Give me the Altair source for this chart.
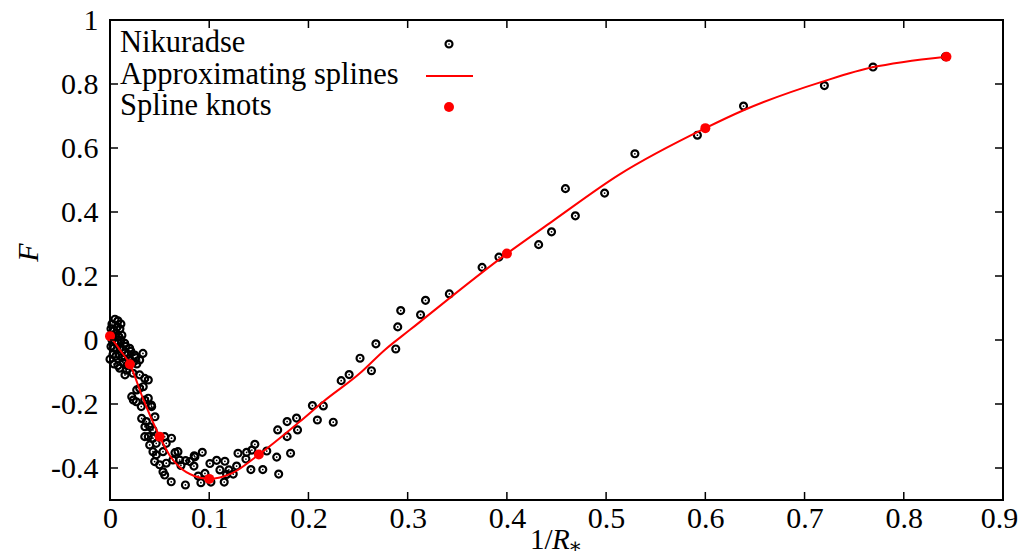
import altair as alt
import pandas as pd

# ---------------- data ----------------
nik_x = [
    # sparse upper branch
    0.529, 0.592, 0.6385, 0.720, 0.769, 0.842,
    0.459, 0.4985, 0.469, 0.445, 0.432, 0.392, 0.375, 0.342, 0.318, 0.293, 0.313, 0.290, 0.268, 0.288,
    0.252, 0.2635, 0.241, 0.233,
    0.204, 0.215, 0.209, 0.225, 0.169, 0.1785, 0.188, 0.189, 0.1785, 0.146, 0.143, 0.129, 0.137,
    0.158, 0.168, 0.182, 0.142, 0.154, 0.170,
    # minimum region
    0.0655, 0.0685, 0.0715, 0.0762, 0.0849, 0.0846, 0.093, 0.1007, 0.1075, 0.1158, 0.1108, 0.1198,
    0.1151, 0.1242, 0.1276, 0.1377, 0.0889, 0.0916, 0.0957, 0.1017, 0.1175, 0.0806, 0.0856, 0.076,
    0.0617, 0.0634, 0.0702, 0.0534, 0.0551, 0.045, 0.050, 0.0567,
    # descending branch
    0.0098, 0.0164, 0.0232, 0.0299, 0.035, 0.0386, 0.0151, 0.0335, 0.0269, 0.0219, 0.0235, 0.0386,
    0.042, 0.0299, 0.035, 0.0315, 0.0453, 0.0319, 0.0366, 0.0352, 0.040, 0.0433, 0.035, 0.0386,
    0.0433, 0.0551, 0.062, 0.040, 0.0466, 0.0567, 0.0433, 0.0466, 0.0534, 0.0265, 0.0416, 0.0249,
    0.0332, 0.0198, 0.0148, 0.0299,
    # dense cluster near the origin
    0.002, 0.005, 0.008, 0.011, 0.001, 0.004, 0.007, 0.010, 0.003, 0.006, 0.009, 0.012, 0.002,
    0.005, 0.008, 0.011, 0.001, 0.004, 0.007, 0.010, 0.013, 0.016, 0.003, 0.006, 0.009, 0.012,
    0.015, 0.018, 0.021, 0.019, 0.023, 0.027, 0.026, 0.000, 0.004, 0.008, 0.013, 0.017,
]
nik_f = [
    0.582, 0.640, 0.731, 0.795, 0.853, 0.885,
    0.473, 0.459, 0.388, 0.338, 0.298, 0.259, 0.227, 0.144, 0.124, 0.092, 0.079, 0.041, -0.012, -0.028,
    -0.057, -0.096, -0.108, -0.127,
    -0.205, -0.206, -0.250, -0.257, -0.281, -0.255, -0.244, -0.281, -0.302, -0.326, -0.344, -0.354, -0.372,
    -0.347, -0.366, -0.354, -0.405, -0.405, -0.419,
    -0.352, -0.349, -0.392, -0.377, -0.362, -0.394, -0.351, -0.386, -0.376, -0.379, -0.406, -0.406,
    -0.444, -0.419, -0.394, -0.351, -0.425, -0.446, -0.417, -0.444, -0.420, -0.380, -0.365, -0.453,
    -0.443, -0.375, -0.375, -0.412, -0.422, -0.380, -0.390, -0.385,
    -0.088, -0.094, -0.104, -0.109, -0.120, -0.125, -0.109, -0.146, -0.156, -0.177, -0.1875, -0.182,
    -0.208, -0.151, -0.1875, -0.208, -0.240, -0.245, -0.255, -0.271, -0.271, -0.281, -0.302, -0.302,
    -0.307, -0.302, -0.307, -0.328, -0.323, -0.323, -0.349, -0.359, -0.349, -0.193, -0.203, -0.047,
    -0.042, -0.026, -0.010, -0.0625,
    0.050, 0.065, 0.060, 0.050, 0.035, 0.030, 0.040, 0.035, 0.015, 0.020, 0.010, 0.015, 0.000,
    -0.005, -0.010, 0.000, -0.020, -0.025, -0.030, -0.025, -0.030, -0.020, -0.045, -0.050, -0.045, -0.055,
    -0.040, -0.045, -0.035, -0.060, -0.070, -0.075, -0.055, -0.060, -0.075, -0.080, -0.070, -0.080,
]

spline_x = [0.0, 0.01, 0.02, 0.0335, 0.05, 0.06, 0.07, 0.085, 0.1, 0.1226, 0.15, 0.1913, 0.216,
            0.2518, 0.2769, 0.302, 0.4, 0.4454, 0.5128, 0.6, 0.6385, 0.7197, 0.7694, 0.80, 0.843]
spline_f = [0.012, -0.031, -0.076, -0.185, -0.302, -0.36, -0.397, -0.425, -0.434, -0.417, -0.358,
            -0.255, -0.19, -0.104, -0.031, 0.031, 0.27, 0.37, 0.516, 0.662, 0.718, 0.809, 0.853,
            0.869, 0.885]

knot_x = [0.0, 0.02, 0.05, 0.1, 0.15, 0.4, 0.6, 0.843]
knot_f = [0.012, -0.076, -0.302, -0.434, -0.358, 0.27, 0.662, 0.885]

x_ticks = [0.0, 0.1, 0.2, 0.3, 0.4, 0.5, 0.6, 0.7, 0.8, 0.9]
y_ticks = [-0.4, -0.2, 0.0, 0.2, 0.4, 0.6, 0.8, 1.0]

legend_labels = ["Nikuradse", "Approximating splines", "Spline knots"]
x_title_parts = ["1/", "R", "\u204e"]
y_title = "F"

# ---------------- chart ----------------
W, H = 893, 480
FONT = "Liberation Serif"
LBL = "replace(format(datum.value, '.1~f'), '\u2212', '-')"
TICKFS = 30

xscale = alt.Scale(domain=[0, 0.9], nice=False, zero=False)
yscale = alt.Scale(domain=[-0.5, 1.0], nice=False, zero=False)

xaxis = alt.Axis(values=x_ticks, ticks=False, domain=False, grid=False, labelFont=FONT,
                 labelFontSize=TICKFS, labelColor="black", labelPadding=3, labelExpr=LBL,
                 labelFlush=False,
                 labelOffset={"condition": {"test": "datum.value > 0.85", "value": -4}, "value": 0},
                 title=None)
yaxis = alt.Axis(values=y_ticks, ticks=False, domain=False, grid=False, labelFont=FONT,
                 labelFontSize=TICKFS, labelColor="black", labelPadding=12, labelExpr=LBL,
                 labelFlush=False, title=y_title, titleFont=FONT, titleFontSize=30,
                 titleFontStyle="italic", titleFontWeight="normal", titleColor="black",
                 titleAngle=270, titleX=-82, titleY=232, titleAlign="center",
                 titleBaseline="middle")

X = alt.X("x:Q", scale=xscale, axis=xaxis)
Y = alt.Y("F:Q", scale=yscale, axis=yaxis)

nik = pd.DataFrame({"x": nik_x, "F": nik_f})
spl = pd.DataFrame({"x": spline_x, "F": spline_f})
kn = pd.DataFrame({"x": knot_x, "F": knot_f})
xt = pd.DataFrame({"x": x_ticks})
yt = pd.DataFrame({"F": y_ticks})

rings = alt.Chart(nik).mark_point(shape="circle", filled=False, stroke="black",
                                  strokeWidth=2.2, size=48, opacity=1).encode(x=X, y=Y)
dots = alt.Chart(nik).mark_point(shape="circle", filled=True, fill="black",
                                 strokeWidth=0, size=3, opacity=1).encode(x=X, y=Y)
line = alt.Chart(spl).mark_line(color="#ff0000", strokeWidth=2,
                                interpolate="monotone").encode(x=X, y=Y)
knots = alt.Chart(kn).mark_point(shape="circle", filled=True, fill="#ff0000",
                                 strokeWidth=0, size=100, opacity=1).encode(x=X, y=Y)

TL = 8
tick_style = dict(color="black", strokeWidth=1.5)
t_bot = alt.Chart(xt).mark_rule(**tick_style).encode(x=X, y=alt.value(H), y2=alt.value(H - TL))
t_top = alt.Chart(xt).mark_rule(**tick_style).encode(x=X, y=alt.value(0), y2=alt.value(TL))
t_left = alt.Chart(yt).mark_rule(**tick_style).encode(y=Y, x=alt.value(0), x2=alt.value(TL))
t_right = alt.Chart(yt).mark_rule(**tick_style).encode(y=Y, x=alt.value(W), x2=alt.value(W - TL))

one = pd.DataFrame({"t": [0]})


def txt(s, x, y, size=30.5, style="normal", align="left", font=FONT):
    return alt.Chart(pd.DataFrame({"t": [s]})).mark_text(
        font=font, fontSize=size, fontStyle=style, align=align, baseline="alphabetic",
        color="black").encode(x=alt.value(x), y=alt.value(y), text="t:N")


leg = [
    txt(legend_labels[0], 10, 32),
    txt(legend_labels[1], 10, 63.5),
    txt(legend_labels[2], 10, 95),
    alt.Chart(one).mark_point(shape="circle", filled=False, stroke="black", strokeWidth=2.2,
                              size=48, opacity=1).encode(x=alt.value(339), y=alt.value(24)),
    alt.Chart(one).mark_point(shape="circle", filled=True, fill="black", strokeWidth=0,
                              size=3, opacity=1).encode(x=alt.value(339), y=alt.value(24)),
    alt.Chart(one).mark_rule(color="#ff0000", strokeWidth=2).encode(
        x=alt.value(316), x2=alt.value(363), y=alt.value(56)),
    alt.Chart(one).mark_point(shape="circle", filled=True, fill="#ff0000", strokeWidth=0,
                              size=100, opacity=1).encode(x=alt.value(339), y=alt.value(87)),
]

xtitle = [
    txt(x_title_parts[0], 420, 529, size=29),
    txt(x_title_parts[1], 442, 529, size=29, style="italic"),
    txt(x_title_parts[2], 460, 530, size=21, font="DejaVu Serif"),
]

chart = alt.layer(
    rings, dots, line, knots, t_bot, t_top, t_left, t_right, *leg, *xtitle
).properties(
    width=W, height=H,
    autosize=alt.AutoSizeParams(type="none"),
    padding={"left": 102, "top": 12, "right": 15, "bottom": 57},
    background="white",
).configure_view(stroke="black", strokeWidth=2)

chart.save("out.html", embed_options={"renderer": "svg", "actions": False})
